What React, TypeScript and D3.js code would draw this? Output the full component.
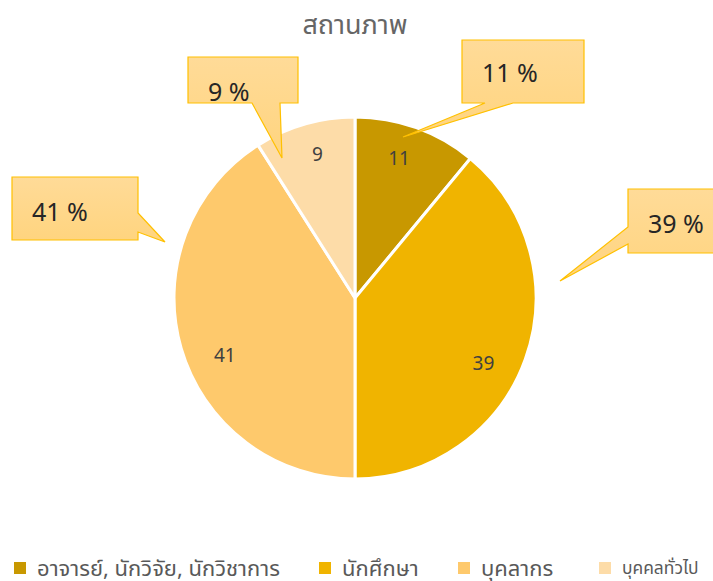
import { useEffect, useRef } from "react"
import * as d3 from "d3"

const title = "สถานภาพ"
const categories = ["อาจารย์, นักวิจัย, นักวิชาการ", "นักศึกษา", "บุคลากร", "บุคคลทั่วไป"]
const values = [11, 39, 41, 9]
const colors = ["#C89800", "#F0B400", "#FEC96C", "#FDDCA8"]

// callout layout, relative to pie centre: box, which side the pointer leaves, pointer base, tip
const callouts = [
    { x: 107, y: -258, w: 122, h: 63, side: "bottom", b0: 130, b1: 158, tip: [48, -161], ty: 42 },
    { x: 273, y: -109, w: 110, h: 64, side: "left", b0: -71, b1: -54, tip: [205, -17], ty: 44 },
    { x: -343, y: -121, w: 126, h: 63, side: "right", b0: -85, b1: -66, tip: [-190, -56], ty: 44 },
    { x: -167, y: -241, w: 110, h: 46, side: "bottom", b0: -103, b1: -75, tip: [-73, -140], ty: 44 },
]
// small nudges for the value labels inside the slices
const labelNudge = [[-5, -3], [-8, 16], [9, 17], [3, -4]]

const W = 713
const H = 581
const cx = 355
const cy = 298
const radius = 181
const font = "'Noto Sans', 'Noto Sans Thai', Tahoma, sans-serif"

const calloutPath = (c) => {
    const { x, y, w, h, side, b0, b1, tip } = c
    const t = `L${tip[0]},${tip[1]}`
    if (side === "bottom")
        return `M${x},${y}H${x + w}V${y + h}H${b1}${t}L${b0},${y + h}H${x}Z`
    if (side === "left")
        return `M${x},${y}H${x + w}V${y + h}H${x}V${b1}${t}L${x},${b0}Z`
    return `M${x},${y}H${x + w}V${b0}${t}L${x + w},${b1}V${y + h}H${x}Z`
}

const App = () => {
    const ref = useRef(null)

    useEffect(() => {
        const svg = d3.select(ref.current)
        svg.selectAll("*").remove()

        const defs = svg.append("defs")
        const grad = defs.append("linearGradient")
            .attr("id", "callout-fill")
            .attr("x1", 0).attr("y1", 0).attr("x2", 0).attr("y2", 1)
        grad.append("stop").attr("offset", "0%").attr("stop-color", "#FFDB98")
        grad.append("stop").attr("offset", "100%").attr("stop-color", "#FFD47E")

        svg.append("text")
            .attr("x", cx)
            .attr("y", 34)
            .attr("text-anchor", "middle")
            .attr("font-family", font)
            .attr("font-size", 27)
            .attr("fill", "#666666")
            .text(title)

        const pie = d3.pie().value(d => d).sort(null)
        const arc = d3.arc().innerRadius(0).outerRadius(radius)
        const labelArc = d3.arc().innerRadius(145).outerRadius(145)
        const arcs = pie(values)

        const g = svg.append("g").attr("transform", `translate(${cx}, ${cy})`)

        g.selectAll("path.slice")
            .data(arcs)
            .enter()
            .append("path")
            .attr("class", "slice")
            .attr("d", arc)
            .attr("fill", (d, i) => colors[i])
            .attr("stroke", "#fff")
            .attr("stroke-width", 3)
            .attr("stroke-linejoin", "round")

        g.selectAll("text.val")
            .data(arcs)
            .enter()
            .append("text")
            .attr("class", "val")
            .attr("transform", (d, i) => {
                const [x, y] = labelArc.centroid(d)
                return `translate(${x + labelNudge[i][0]}, ${y + labelNudge[i][1]})`
            })
            .attr("text-anchor", "middle")
            .attr("dy", "0.35em")
            .attr("font-family", font)
            .attr("font-size", 19)
            .attr("fill", "#404040")
            .text(d => d.value)

        const total = d3.sum(values)
        const cg = g.selectAll("g.callout")
            .data(arcs)
            .enter()
            .append("g")
            .attr("class", "callout")

        cg.append("path")
            .attr("d", (d, i) => calloutPath(callouts[i]))
            .attr("fill", "url(#callout-fill)")
            .attr("stroke", "#FFC000")
            .attr("stroke-width", 1.2)

        cg.append("text")
            .attr("x", (d, i) => callouts[i].x + 20)
            .attr("y", (d, i) => callouts[i].y + callouts[i].ty)
            .attr("font-family", font)
            .attr("font-size", 25)
            .attr("fill", "#262626")
            .text(d => `${Math.round(d.value / total * 100)} %`)

        // legend
        const legendX = [14, 319, 458, 599]
        const lg = svg.selectAll("g.legend")
            .data(categories)
            .enter()
            .append("g")
            .attr("class", "legend")
            .attr("transform", (d, i) => `translate(${legendX[i]}, 568)`)

        lg.append("rect")
            .attr("x", 0)
            .attr("y", -6)
            .attr("width", 12)
            .attr("height", 12)
            .attr("fill", (d, i) => colors[i])

        lg.append("text")
            .attr("x", 23)
            .attr("dy", "0.35em")
            .attr("font-family", font)
            .attr("font-size", 22)
            .attr("fill", "#595959")
            .text(d => d)
            .each(function (d, i) {
                // shrink a label if it would run into the next entry or off the edge
                const room = (i < legendX.length - 1 ? legendX[i + 1] - 14 : W - 14) - legendX[i] - 23
                const len = this.getComputedTextLength()
                if (len > room) {
                    d3.select(this).attr("font-size", Math.floor(22 * room / len * 10) / 10)
                }
            })
    })

    return (
        <svg ref={ref} width={W} height={H} style={{ position: "absolute", left: 0, top: 0 }} />
    )
}

export default App
